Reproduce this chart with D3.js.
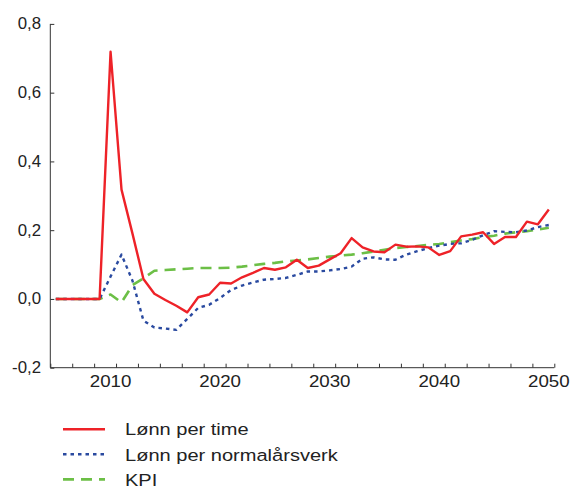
<!DOCTYPE html>
<html>
<head>
<meta charset="utf-8">
<script src="https://cdn.jsdelivr.net/npm/d3@7"></script>
<style>
  body { margin: 0; background: #fff; }
  text { font-family: "Liberation Sans", Arial, sans-serif; fill: #222; }
</style>
</head>
<body>
<svg id="chart"></svg>
<script>
// data, one value per year 2005-2050
var years = d3.range(2005, 2051);
var lonnPerTime = [0, 0, 0, 0, 0, 0.719, 0.318, 0.19, 0.058, 0.015,
  -0.003, -0.02, -0.039, 0.005, 0.013, 0.047, 0.045, 0.063, 0.076, 0.09,
  0.085, 0.092, 0.114, 0.09, 0.097, 0.115, 0.133, 0.177, 0.15, 0.138,
  0.136, 0.158, 0.152, 0.153, 0.15, 0.128, 0.139, 0.182, 0.187, 0.194,
  0.16, 0.18, 0.18, 0.225, 0.217, 0.26];
var lonnPerArsverk = [0, 0, 0, 0, 0, 0.065, 0.129, 0.053, -0.063, -0.083,
  -0.086, -0.09, -0.058, -0.026, -0.017, 0.003, 0.026, 0.039, 0.048, 0.056,
  0.058, 0.061, 0.07, 0.08, 0.08, 0.083, 0.087, 0.094, 0.117, 0.121,
  0.115, 0.114, 0.129, 0.139, 0.148, 0.155, 0.16, 0.162, 0.172, 0.185,
  0.197, 0.195, 0.194, 0.199, 0.209, 0.215];
var kpi = [0, 0, 0, 0, 0, 0.013, -0.01, 0.04, 0.06, 0.082,
  0.084, 0.086, 0.088, 0.09, 0.09, 0.09, 0.091, 0.094, 0.098, 0.102,
  0.105, 0.109, 0.112, 0.115, 0.119, 0.123, 0.126, 0.129, 0.133, 0.138,
  0.143, 0.148, 0.151, 0.154, 0.157, 0.16, 0.165, 0.17, 0.174, 0.18,
  0.184, 0.19, 0.194, 0.197, 0.202, 0.207];
var seriesNames = ['Lønn per time', 'Lønn per normalårsverk', 'KPI'];
var yTicks = [-0.2, 0, 0.2, 0.4, 0.6, 0.8];
var xLabels = [2010, 2020, 2030, 2040, 2050];

var width = 571, height = 489;
var svg = d3.select('#chart')
  .attr('width', width)
  .attr('height', height);

var x = d3.scaleLinear().domain([2004, 2050]).range([50.3, 554.3]);
var y = d3.scaleLinear().domain([-0.2, 0.8]).range([367.7, 23.9]);

var axisColor = '#333';

// text is a little wider than the font in the original
function addText(parent, tx, ty, str, size, sx, anchor) {
  return parent.append('text')
    .attr('transform', 'translate(' + tx + ',' + ty + ') scale(' + sx + ',1)')
    .attr('text-anchor', anchor)
    .attr('font-size', size + 'px')
    .text(str);
}

// y axis, ticks pointing inwards
var yAxis = svg.append('g')
  .attr('transform', 'translate(' + x(2004) + ',0)')
  .call(d3.axisRight(y).tickValues(yTicks).tickSize(4).tickFormat(''));
yAxis.select('.domain').attr('stroke', axisColor).attr('d', 'M0,' + y(0.8) + 'V' + y(-0.2));
yAxis.selectAll('.tick line').attr('stroke', axisColor);

yTicks.forEach(function(d) {
  var lab = d3.format('.1f')(d).replace('.', ',').replace('−', '-');
  addText(svg, 41, y(d) + 5.5, lab, 16, 1.05, 'end');
});

// x axis, a tick every second year
var xAxis = svg.append('g')
  .attr('transform', 'translate(0,' + y(-0.2) + ')')
  .call(d3.axisTop(x).tickValues(d3.range(2004, 2051, 2)).tickSize(4).tickFormat(''));
xAxis.select('.domain').attr('stroke', axisColor).attr('d', 'M' + x(2004) + ',0H' + x(2050));
xAxis.selectAll('.tick line').attr('stroke', axisColor);

// labels sit under the year's point, half a year left of the tick
xLabels.forEach(function(d) {
  addText(svg, x(d - 0.5), 387, d, 16, 1.17, 'middle');
});

// lines: each year is drawn in the middle of its period
var series = [
  { name: seriesNames[0], values: lonnPerTime, color: '#ee2228', dash: null, w: 2.4 },
  { name: seriesNames[1], values: lonnPerArsverk, color: '#2a4aa0', dash: '3.5,4', w: 2.4 },
  { name: seriesNames[2], values: kpi, color: '#6cbf46', dash: '11,7', w: 2.6 }
];

var line = d3.line()
  .x(function(d, i) { return x(years[i] - 0.5); })
  .y(function(d) { return y(d); });

series.slice().reverse().forEach(function(s) {
  svg.append('path')
    .datum(s.values)
    .attr('d', line)
    .attr('fill', 'none')
    .attr('stroke', s.color)
    .attr('stroke-width', s.w)
    .attr('stroke-linejoin', 'round')
    .attr('stroke-dasharray', s.dash);
});

// legend
var legend = svg.append('g');
series.forEach(function(s, i) {
  var ly = 429.2 + i * 25.1;
  legend.append('line')
    .attr('x1', 63)
    .attr('x2', 105)
    .attr('y1', ly)
    .attr('y2', ly)
    .attr('stroke', s.color)
    .attr('stroke-width', s.w)
    .attr('stroke-dasharray', s.dash);
  addText(legend, 125, ly + 6.2, s.name, 17, 1.18, 'start');
});
</script>
</body>
</html>
